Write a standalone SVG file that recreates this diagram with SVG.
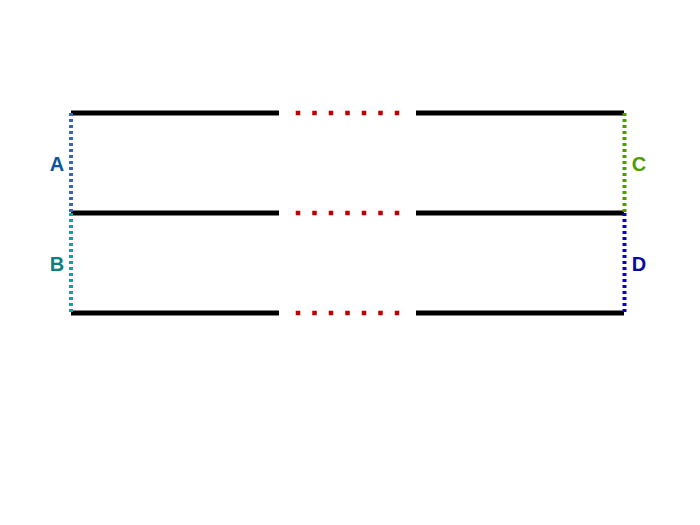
<svg xmlns="http://www.w3.org/2000/svg" width="700" height="525" viewBox="0 0 700 525">
<style>
.bl{stroke:#000;stroke-width:5;fill:none}
.rd{stroke:#c00000;stroke-width:4.5;stroke-dasharray:4.5 12;fill:none}
.v{stroke-width:4;stroke-dasharray:3 3;fill:none}
.lab{font-family:"Liberation Sans",Arial,sans-serif;font-weight:bold;font-size:20px;text-anchor:middle}
</style>
<rect width="700" height="525" fill="#fff"/>
<g id="connectors">
<path class="bl" d="M71 113H279M416 113H624M71 213H279M416 213H624M71 313H279M416 313H624"/>
<path class="rd" d="M295.75 113H400M295.75 213H400M295.75 313H400"/>
<path class="v" stroke="#3a66b8" d="M71 113V213"/>
<path class="v" stroke="#00a8a8" d="M71 213V313"/>
<path class="v" stroke="#4c9e00" d="M624.5 113V213"/>
<path class="v" stroke="#0808b0" d="M624.5 213V313"/>
</g>
<g id="labelA"><text class="lab" x="57" y="171" fill="#0a56a0">A</text></g>
<g id="labelB"><text class="lab" x="57" y="271" fill="#0a8080">B</text></g>
<g id="labelC"><text class="lab" x="639" y="171" fill="#4c9e00">C</text></g>
<g id="labelD"><text class="lab" x="639" y="271" fill="#0a0aa0">D</text></g>
</svg>
